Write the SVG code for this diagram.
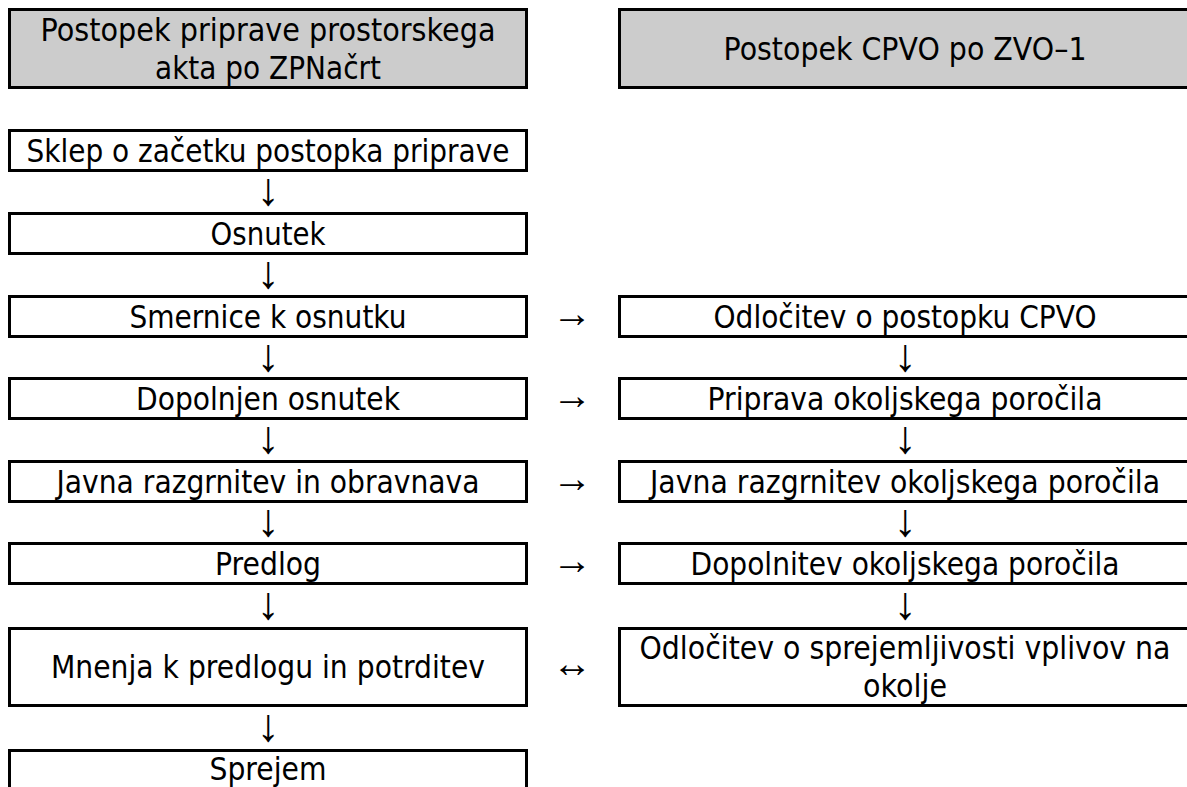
<svg xmlns="http://www.w3.org/2000/svg" width="1187" height="787" viewBox="0 0 1187 787">
<style>
.box{fill:#ffffff;stroke:#000000;stroke-width:3}
.hdr{fill:#cccccc;stroke:#000000;stroke-width:3}
.t{font-family:"DejaVu Sans","Liberation Sans",sans-serif;font-size:32px;fill:#000000;text-anchor:middle}
.d{font-family:"Liberation Serif","DejaVu Serif",serif;font-size:46px;fill:#000000;text-anchor:middle}
.r{font-family:"Liberation Serif","DejaVu Serif",serif;font-size:40px;fill:#000000;text-anchor:middle}
</style>
<rect x="0" y="0" width="1187" height="787" fill="#ffffff"/>
<g id="hdr-left">
<rect class="hdr" x="9.5" y="9.5" width="517" height="78"/>
<text class="t" x="268" y="41" textLength="455" lengthAdjust="spacingAndGlyphs">Postopek priprave prostorskega</text>
<text class="t" x="268" y="79" textLength="226" lengthAdjust="spacingAndGlyphs">akta po ZPNačrt</text>
</g>
<g id="hdr-right">
<rect class="hdr" x="619.5" y="9.5" width="580" height="78"/>
<text class="t" x="905" y="60" textLength="363" lengthAdjust="spacingAndGlyphs">Postopek CPVO po ZVO–1</text>
</g>
<g id="sklep">
<rect class="box" x="9.5" y="130.5" width="517" height="40"/>
<text class="t" x="268" y="162" textLength="483" lengthAdjust="spacingAndGlyphs">Sklep o začetku postopka priprave</text>
</g>
<g id="osnutek">
<rect class="box" x="9.5" y="213.5" width="517" height="40"/>
<text class="t" x="268" y="245" textLength="115" lengthAdjust="spacingAndGlyphs">Osnutek</text>
</g>
<g id="smernice">
<rect class="box" x="9.5" y="296.5" width="517" height="40"/>
<text class="t" x="268" y="328" textLength="277" lengthAdjust="spacingAndGlyphs">Smernice k osnutku</text>
</g>
<g id="dopolnjen">
<rect class="box" x="9.5" y="378.5" width="517" height="40"/>
<text class="t" x="268" y="410" textLength="264" lengthAdjust="spacingAndGlyphs">Dopolnjen osnutek</text>
</g>
<g id="javna">
<rect class="box" x="9.5" y="461.5" width="517" height="40"/>
<text class="t" x="268" y="493" textLength="423" lengthAdjust="spacingAndGlyphs">Javna razgrnitev in obravnava</text>
</g>
<g id="predlog">
<rect class="box" x="9.5" y="543.5" width="517" height="40"/>
<text class="t" x="268" y="575" textLength="106" lengthAdjust="spacingAndGlyphs">Predlog</text>
</g>
<g id="mnenja">
<rect class="box" x="9.5" y="628.5" width="517" height="77"/>
<text class="t" x="268" y="678" textLength="434" lengthAdjust="spacingAndGlyphs">Mnenja k predlogu in potrditev</text>
</g>
<g id="sprejem">
<rect class="box" x="9.5" y="750.5" width="517" height="60"/>
<text class="t" x="268" y="780" textLength="117" lengthAdjust="spacingAndGlyphs">Sprejem</text>
</g>
<g id="odlocitev-cpvo">
<rect class="box" x="619.5" y="296.5" width="580" height="40"/>
<text class="t" x="905" y="328" textLength="383" lengthAdjust="spacingAndGlyphs">Odločitev o postopku CPVO</text>
</g>
<g id="priprava">
<rect class="box" x="619.5" y="378.5" width="580" height="40"/>
<text class="t" x="905" y="410" textLength="395" lengthAdjust="spacingAndGlyphs">Priprava okoljskega poročila</text>
</g>
<g id="javna-op">
<rect class="box" x="619.5" y="461.5" width="580" height="40"/>
<text class="t" x="905" y="493" textLength="510" lengthAdjust="spacingAndGlyphs">Javna razgrnitev okoljskega poročila</text>
</g>
<g id="dopolnitev">
<rect class="box" x="619.5" y="543.5" width="580" height="40"/>
<text class="t" x="905" y="575" textLength="429" lengthAdjust="spacingAndGlyphs">Dopolnitev okoljskega poročila</text>
</g>
<g id="sprejemljivost">
<rect class="box" x="619.5" y="628.5" width="580" height="77"/>
<text class="t" x="905" y="659" textLength="531" lengthAdjust="spacingAndGlyphs">Odločitev o sprejemljivosti vplivov na</text>
<text class="t" x="905" y="697" textLength="84" lengthAdjust="spacingAndGlyphs">okolje</text>
</g>
<g id="connectors">
<text class="d" x="268" y="205">↓</text>
<text class="d" x="268" y="288">↓</text>
<text class="d" x="268" y="371">↓</text>
<text class="d" x="268" y="453">↓</text>
<text class="d" x="268" y="536">↓</text>
<text class="d" x="268" y="619">↓</text>
<text class="d" x="268" y="741">↓</text>
<text class="d" x="905" y="371">↓</text>
<text class="d" x="905" y="453">↓</text>
<text class="d" x="905" y="536">↓</text>
<text class="d" x="905" y="619">↓</text>
<text class="r" x="572" y="327">→</text>
<text class="r" x="572" y="409">→</text>
<text class="r" x="572" y="492">→</text>
<text class="r" x="572" y="574">→</text>
<text class="r" x="572" y="677">↔</text>
</g>
</svg>
